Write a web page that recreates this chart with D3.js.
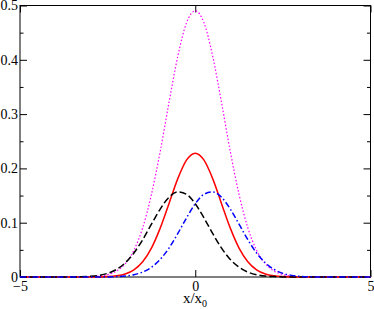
<!DOCTYPE html>
<html>
<head>
<meta charset="utf-8">
<script src="https://d3js.org/d3.v7.min.js"></script>
<style>
  body { margin: 0; background: #fff; }
</style>
</head>
<body>
<svg width="374" height="309"></svg>
<script>
// x positions (x/x0) at which the curves were read
var xs = [-5, -4, -3.5, -3.25, -3, -2.75, -2.5, -2.25, -2, -1.75, -1.5, -1.25, -1, -0.75, -0.5, -0.25,
          0, 0.25, 0.5, 0.75, 1, 1.25, 1.5, 1.75, 2, 2.25, 2.5, 2.75, 3, 3.25, 3.5, 4, 5];

// magenta dotted
var magenta = [0, 0, 0.0001, 0.0002, 0.0006, 0.0017, 0.0045, 0.0110, 0.0244, 0.0493, 0.0906, 0.152, 0.231, 0.321, 0.406, 0.468,
               0.490, 0.468, 0.406, 0.321, 0.231, 0.152, 0.0906, 0.0493, 0.0244, 0.0110, 0.0045, 0.0017, 0.0006, 0.0002, 0.0001, 0, 0];
// red solid
var red = [0, 0, 0, 0, 0.0001, 0.0002, 0.0007, 0.0021, 0.0055, 0.0132, 0.0281, 0.0533, 0.0900, 0.1351, 0.1807, 0.2151,
           0.228, 0.2151, 0.1807, 0.1351, 0.0900, 0.0533, 0.0281, 0.0132, 0.0055, 0.0021, 0.0007, 0.0002, 0.0001, 0, 0, 0, 0];
// black dashed
var black = [0, 0, 0.0001, 0.0004, 0.0012, 0.0030, 0.0067, 0.0138, 0.0259, 0.0442, 0.0687, 0.0972, 0.1251, 0.1468, 0.1567, 0.1524,
             0.1349, 0.1087, 0.0798, 0.0533, 0.0324, 0.0180, 0.0091, 0.0042, 0.0017, 0.0007, 0.0002, 0.0001, 0, 0, 0, 0, 0];
// blue dash-dot
var blue = [0, 0, 0, 0, 0, 0.0001, 0.0002, 0.0007, 0.0017, 0.0042, 0.0091, 0.0180, 0.0324, 0.0533, 0.0798, 0.1087,
            0.1349, 0.1524, 0.1567, 0.1468, 0.1251, 0.0972, 0.0687, 0.0442, 0.0259, 0.0138, 0.0067, 0.0030, 0.0012, 0.0004, 0.0001, 0, 0];

var xTicks = [-5, 0, 5];
var yTicks = [0, 0.1, 0.2, 0.3, 0.4, 0.5];
var yMinor = [0.05, 0.15, 0.25, 0.35, 0.45];

var serif = "'Liberation Serif', 'Times New Roman', serif";

var svg = d3.select("svg");
var x = d3.scaleLinear().domain([-5, 5]).range([20, 370.5]);
var y = d3.scaleLinear().domain([0, 0.5]).range([277, 5.5]);

// axes with inward ticks
svg.append("g").attr("transform", "translate(20,0)")
  .call(d3.axisLeft(y).tickValues(yTicks).tickSize(-7).tickPadding(2).tickFormat(d3.format("")));
svg.append("g").attr("transform", "translate(20,0)")
  .call(d3.axisLeft(y).tickValues(yMinor).tickSize(-3.5).tickFormat(""));
svg.append("g").attr("transform", "translate(370.5,0)")
  .call(d3.axisRight(y).tickValues(yTicks).tickSize(-7).tickFormat(""));
svg.append("g").attr("transform", "translate(370.5,0)")
  .call(d3.axisRight(y).tickValues(yMinor).tickSize(-3.5).tickFormat(""));
svg.append("g").attr("transform", "translate(0,277)")
  .call(d3.axisBottom(x).tickValues(xTicks).tickSize(-7).tickPadding(4).tickFormat(d3.format("")));
svg.append("g").attr("transform", "translate(0,5.5)")
  .call(d3.axisTop(x).tickValues(xTicks).tickSize(-7).tickFormat(""));

svg.selectAll(".domain").remove();
svg.selectAll("g").attr("font-family", null);
svg.selectAll(".tick line").attr("stroke", "#000").attr("shape-rendering", "auto");
svg.selectAll(".tick text")
  .style("font-family", serif)
  .style("font-size", "14px")
  .attr("fill", "#000");

// frame
svg.append("rect")
  .attr("x", 20).attr("y", 5.5)
  .attr("width", 350.5).attr("height", 271.5)
  .attr("fill", "none").attr("stroke", "#000").attr("stroke-width", 1);

var line = d3.line()
  .x(function(d, i) { return x(xs[i]); })
  .y(function(d) { return y(d); })
  .curve(d3.curveMonotoneX);

var series = [
  { v: magenta, color: "#ff00ff", dash: "1.5,2", w: 1.2 },
  { v: red, color: "#ff0000", dash: null, w: 1.5 },
  { v: black, color: "#000000", dash: "7,3", w: 1.5 },
  { v: blue, color: "#0000ff", dash: "6,2.5,1.5,2.5", w: 1.5 }
];

series.forEach(function(s) {
  svg.append("path")
    .datum(s.v)
    .attr("fill", "none")
    .attr("stroke", s.color)
    .attr("stroke-width", s.w)
    .attr("stroke-dasharray", s.dash)
    .attr("d", line);
});

// x axis title
var title = svg.append("text")
  .attr("x", 195).attr("y", 302.5)
  .attr("text-anchor", "middle")
  .style("font-family", serif)
  .style("font-size", "15px");
title.append("tspan").text("x/x");
title.append("tspan").style("font-size", "10px").attr("dy", 4).text("0");
</script>
</body>
</html>
